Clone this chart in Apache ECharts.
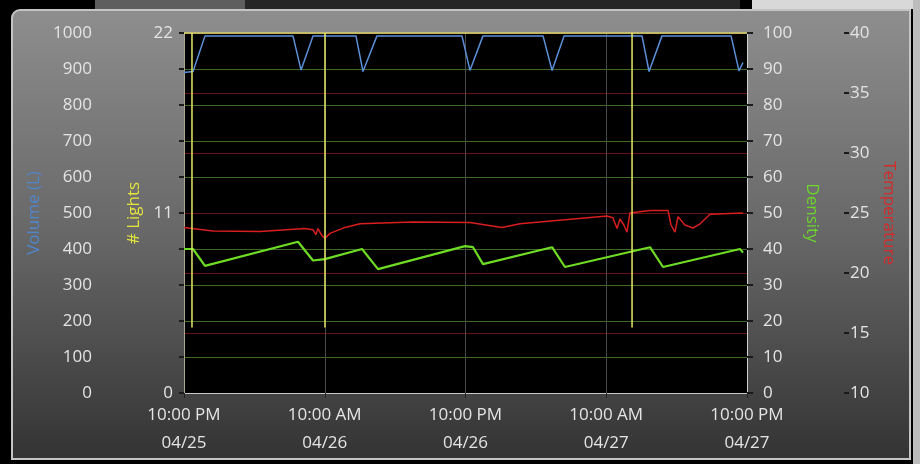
<!DOCTYPE html>
<html>
<head>
<meta charset="utf-8">
<script src="https://cdn.jsdelivr.net/npm/echarts@6/dist/echarts.min.js"></script>
<style>
html,body{margin:0;padding:0;background:#000;}
#c{width:920px;height:464px;}
</style>
</head>
<body>
<div id="c"></div>
<script>
// X axis: hours since 10:00 PM 04/25
const tickHours = [0, 12, 24, 36, 48];
const timeLabels = ['10:00 PM', '10:00 AM', '10:00 PM', '10:00 AM', '10:00 PM'];
const dateLabels = ['04/25', '04/26', '04/26', '04/27', '04/27'];

// Volume (L) [hour, value]
const volumeData = [
  [0, 890], [0.77, 893], [1.79, 992], [9.29, 992], [9.98, 897], [11.0, 992],
  [14.66, 992], [15.26, 893], [16.45, 992], [23.7, 992], [24.38, 896], [25.49, 992],
  [30.61, 992], [31.38, 896], [32.4, 992], [39.05, 992], [39.65, 893], [40.75, 992],
  [46.64, 992], [47.32, 895], [47.66, 918]
];

// # Lights [hour, value]
const lightsData = [
  [0, 22], [0.68, 22], [0.68, 4], [0.68, 22], [12.02, 22], [12.02, 4], [12.02, 22],
  [38.2, 22], [38.2, 4], [38.2, 22], [48, 22]
];

// Density [hour, value]
const densityData = [
  [0, 40], [0.77, 40], [1.79, 35.3], [9.72, 42], [11.0, 36.8], [12.0, 37.2],
  [15.18, 40], [16.54, 34.4], [23.96, 40.8], [24.64, 40.5], [25.49, 35.8],
  [31.38, 40.5], [32.48, 35], [39.73, 40.5], [40.84, 35], [47.4, 40], [47.66, 39]
];

// Temperature [hour, value]
const temperatureData = [
  [0, 23.8], [2.47, 23.5], [6.48, 23.45], [10.3, 23.7], [11.0, 23.6], [11.25, 23.2],
  [11.42, 23.7], [11.77, 23.1], [12.02, 22.9], [12.45, 23.3], [13.73, 23.8], [15.0, 24.1],
  [19.5, 24.25], [24.38, 24.2], [27.1, 23.8], [28.65, 24.1], [36.06, 24.75], [36.57, 24.6],
  [36.92, 23.7], [37.17, 24.5], [37.5, 24.0], [37.77, 23.4], [38.02, 25.0], [39.73, 25.2],
  [41.27, 25.2], [41.52, 24.0], [41.86, 23.4], [42.12, 24.7], [42.7, 24.0], [43.4, 23.75],
  [44.0, 24.1], [44.85, 24.9], [47.66, 25.0]
];

const chart = echarts.init(document.getElementById('c'));
const FONT = 'Open Sans';
const LBL = '#e4e4e4';
const plain = function (v) { return String(v); };

chart.setOption({
  backgroundColor: '#000',
  animation: false,
  graphic: [
    { type: 'rect', z: -10, shape: { x: 95, y: 0, width: 150, height: 9 }, style: { fill: '#5e5e5e' } },
    { type: 'rect', z: -10, shape: { x: 245, y: 0, width: 495, height: 9 }, style: { fill: '#262626' } },
    { type: 'rect', z: -10, shape: { x: 752, y: 0, width: 168, height: 9 }, style: { fill: '#d8d8d8' } },
    { type: 'rect', z: -10, shape: { x: 913, y: 0, width: 7, height: 464 }, style: { fill: '#bcbcbc' } },
    {
      type: 'rect', z: -5,
      shape: { x: 12, y: 10, width: 898, height: 449, r: [8, 0, 0, 0] },
      style: {
        fill: new echarts.graphic.LinearGradient(0, 0, 0, 1, [
          { offset: 0, color: '#8e8e8e' },
          { offset: 0.5, color: '#676767' },
          { offset: 1, color: '#333333' }
        ]),
        stroke: '#c4c4c4', lineWidth: 2
      }
    }
  ],
  grid: {
    left: 184, top: 33, width: 563, height: 360,
    show: true, backgroundColor: '#000', borderWidth: 0
  },
  xAxis: {
    type: 'value', min: 0, max: 48, interval: 12,
    axisLine: { show: true, lineStyle: { color: '#c8c8c8', width: 1 } },
    axisTick: { show: true, length: 5, lineStyle: { color: '#222' } },
    splitLine: { show: true, lineStyle: { color: '#4a4a4a', width: 1 } },
    axisLabel: {
      color: LBL, fontFamily: FONT, fontSize: 17, lineHeight: 28, margin: 8,
      formatter: function (v) {
        const i = tickHours.indexOf(v);
        return i >= 0 ? timeLabels[i] + '\n' + dateLabels[i] : '';
      }
    }
  },
  yAxis: [
    {
      type: 'value', name: 'Volume (L)', nameLocation: 'middle', nameGap: 66,
      nameTextStyle: { color: '#4f86cc', fontFamily: FONT, fontSize: 17, padding: [0, 0, 0, 0] },
      position: 'left', offset: 71, min: 0, max: 1000, interval: 100,
      axisLine: { show: false },
      axisTick: { show: true, length: 5, lineStyle: { color: '#1a1a1a', width: 2 } },
      axisLabel: { color: LBL, fontFamily: FONT, fontSize: 17, margin: 21, formatter: plain },
      splitLine: { show: false }
    },
    {
      type: 'value', name: '# Lights', nameLocation: 'middle', nameGap: 36,
      nameTextStyle: { color: '#e4e43c', fontFamily: FONT, fontSize: 17 },
      position: 'left', offset: 0, min: 0, max: 22, interval: 11,
      axisLine: { show: true, lineStyle: { color: '#a8a890' } },
      axisTick: { show: true, length: 5, lineStyle: { color: '#1a1a1a', width: 2 } },
      axisLabel: { color: LBL, fontFamily: FONT, fontSize: 17, margin: 11, formatter: plain },
      splitLine: { show: false }
    },
    {
      type: 'value', name: 'Density', nameLocation: 'middle', nameGap: 54, nameRotate: -90,
      nameTextStyle: { color: '#6cd62a', fontFamily: FONT, fontSize: 17 },
      position: 'right', offset: 0, min: 0, max: 100, interval: 10,
      axisLine: { show: true, lineStyle: { color: '#d0d0d0' } },
      axisTick: { show: true, length: 6, lineStyle: { color: '#1a1a1a', width: 2 } },
      axisLabel: { color: LBL, fontFamily: FONT, fontSize: 17, margin: 16, formatter: plain },
      splitLine: { show: true, lineStyle: { color: '#3d6a26', width: 1 } }
    },
    {
      type: 'value', name: 'Temperature', nameLocation: 'middle', nameGap: 34, nameRotate: -90,
      nameTextStyle: { color: '#d42a2a', fontFamily: FONT, fontSize: 17 },
      position: 'right', offset: 97, min: 10, max: 40, interval: 5,
      axisLine: { show: false },
      axisTick: { show: true, length: 5, lineStyle: { color: '#1a1a1a', width: 2 } },
      axisLabel: { color: LBL, fontFamily: FONT, fontSize: 17, margin: 6, formatter: plain },
      splitLine: { show: true, lineStyle: { color: '#6a1010', width: 1 } }
    }
  ],
  series: [
    {
      name: 'Temperature', type: 'line', yAxisIndex: 3, data: temperatureData,
      symbol: 'none', lineStyle: { color: '#d81e1e', width: 1.5 }, z: 3
    },
    {
      name: 'Density', type: 'line', yAxisIndex: 2, data: densityData,
      symbol: 'none', lineStyle: { color: '#6edc24', width: 2.2 }, z: 4
    },
    {
      name: 'Volume (L)', type: 'line', yAxisIndex: 0, data: volumeData,
      symbol: 'none', lineStyle: { color: '#5b8fd8', width: 1.5 }, z: 5
    },
    {
      name: '# Lights', type: 'line', yAxisIndex: 1, data: lightsData,
      symbol: 'none', lineStyle: { color: '#e8e86a', width: 1.5 }, z: 6
    }
  ]
});
</script>
</body>
</html>
